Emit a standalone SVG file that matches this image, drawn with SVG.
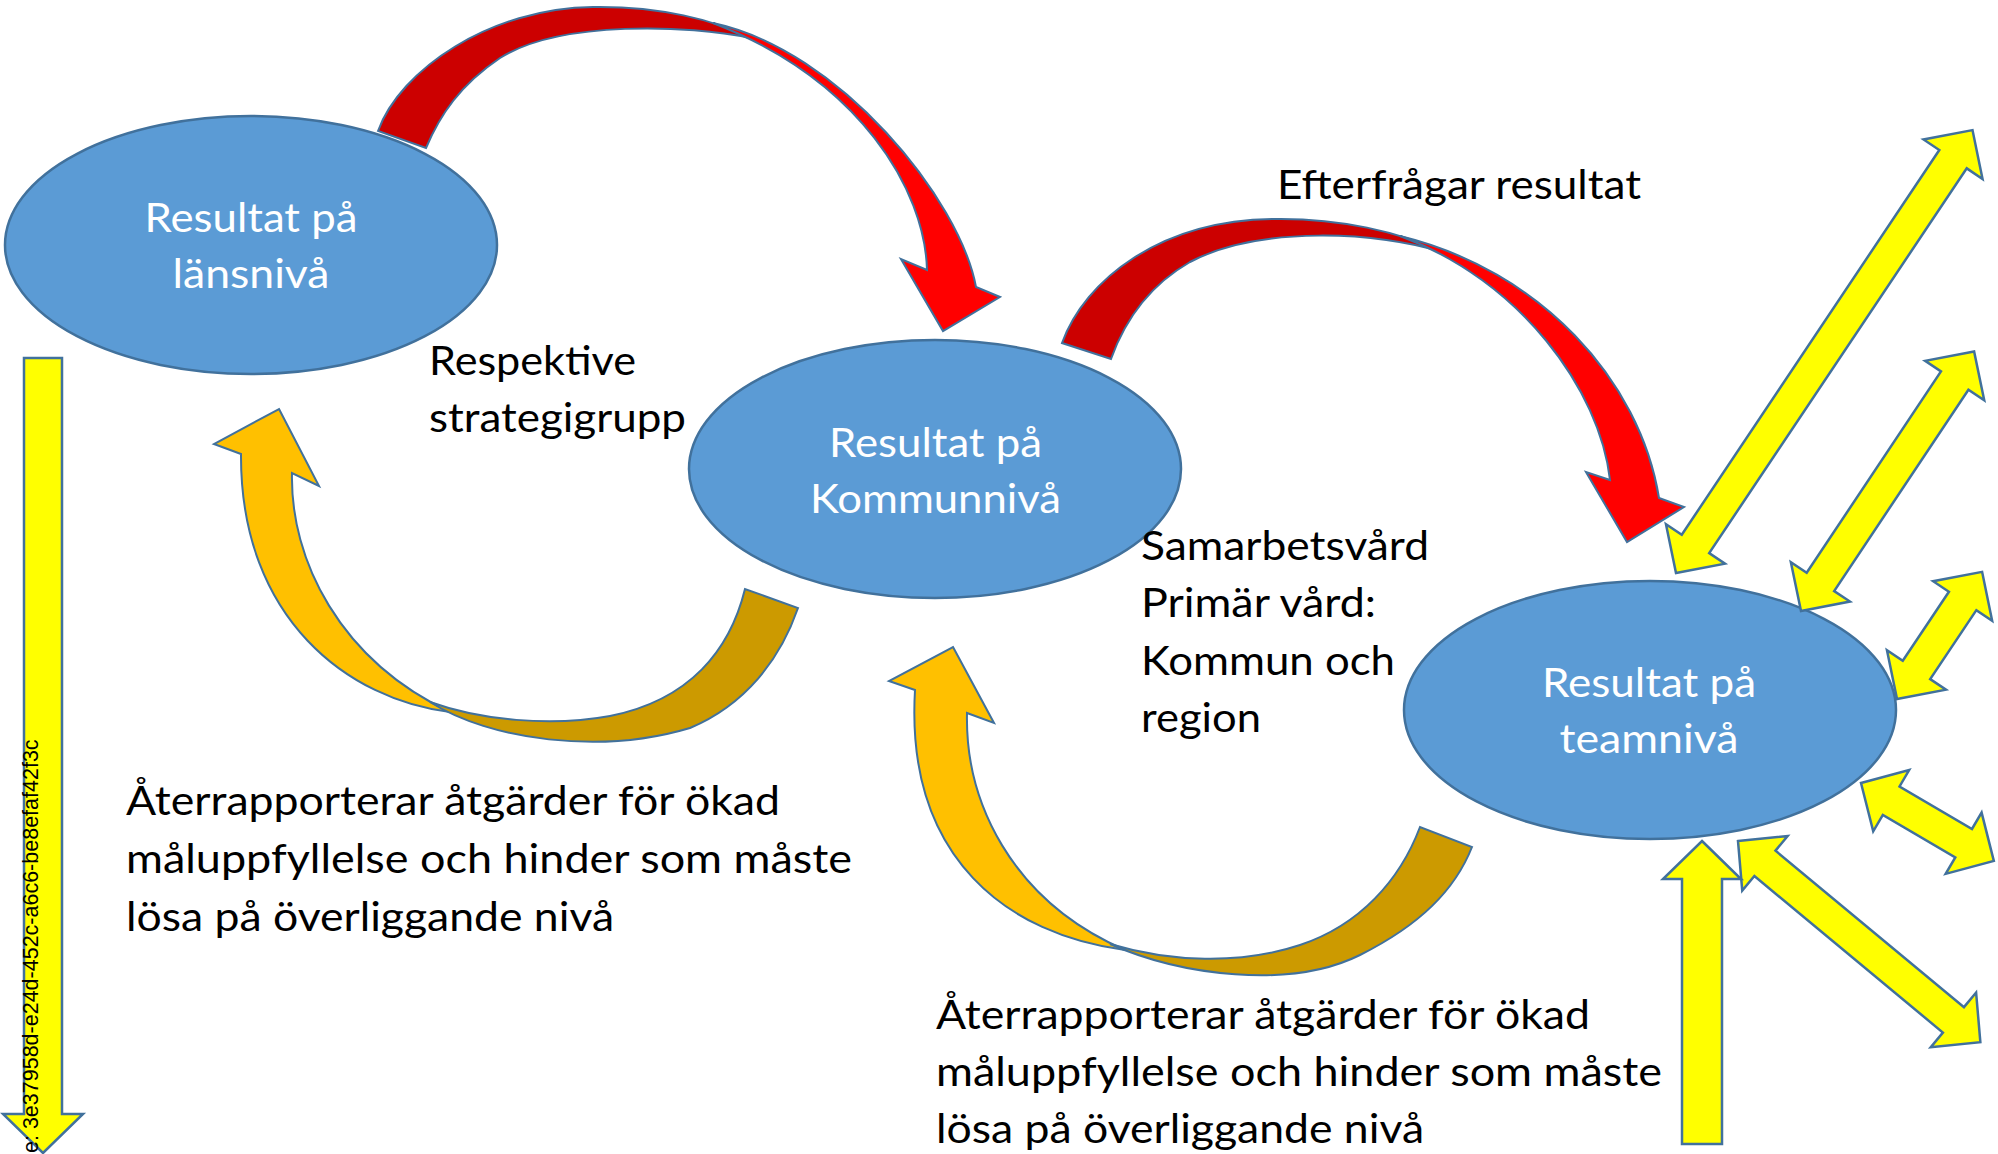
<svg xmlns="http://www.w3.org/2000/svg" width="1998" height="1154" viewBox="0 0 1998 1154">
<style>
.bg{fill:#fff}
.node ellipse{fill:#5B9BD5;stroke:#41719C;stroke-width:2.5}
.nt{font-family:Lato,"Open Sans","Liberation Sans",sans-serif;font-size:41px;fill:#fff;text-anchor:middle}
.lbl{font-family:Lato,"Open Sans","Liberation Sans",sans-serif;font-size:40px;fill:#000}
.ya{fill:#FFFF00;stroke:#41719C;stroke-width:2.5;stroke-linejoin:miter}
.rb{fill:#FF0000;stroke:#41719C;stroke-width:2}
.rd{fill:#CC0000;stroke:#41719C;stroke-width:2}
.ol{fill:#FFC000;stroke:#41719C;stroke-width:2}
.od{fill:#CC9A00;stroke:#41719C;stroke-width:2}
.id{font-family:"Liberation Sans",Arial,sans-serif;font-size:21.5px;fill:#000}
</style>
<rect class="bg" x="0" y="0" width="1998" height="1154"/>

<g id="node-lan" class="node">
<ellipse cx="251" cy="245" rx="246" ry="129"/>
<text class="nt" x="251" y="232" textLength="213" lengthAdjust="spacingAndGlyphs">Resultat på</text>
<text class="nt" x="251" y="288" textLength="157" lengthAdjust="spacingAndGlyphs">länsnivå</text>
</g>
<g id="node-kommun" class="node">
<ellipse cx="935" cy="469" rx="246" ry="129"/>
<text class="nt" x="935.5" y="457" textLength="213" lengthAdjust="spacingAndGlyphs">Resultat på</text>
<text class="nt" x="935.5" y="513" textLength="251" lengthAdjust="spacingAndGlyphs">Kommunnivå</text>
</g>
<g id="node-team" class="node">
<ellipse cx="1650" cy="710" rx="246" ry="129"/>
<text class="nt" x="1649" y="697" textLength="214" lengthAdjust="spacingAndGlyphs">Resultat på</text>
<text class="nt" x="1649" y="753" textLength="179" lengthAdjust="spacingAndGlyphs">teamnivå</text>
</g>

<g id="connectors">
<g id="red-1">
<path class="rd" d="M378,131 C400,70 490,8 593,7 C660,6 715,20 750,38 C690,25 560,20 500,58 C460,85 440,115 426,148 Z"/>
<path class="rb" d="M713,23 C840,50 960,200 976,287 L1000,297 L943,331 L901,259 L927,270 C925,190 860,80 713,23 Z"/>
</g>
<g id="red-2">
<path class="rd" d="M1062,343 C1085,280 1160,220 1274,219 C1340,218 1400,232 1442,252 C1380,232 1260,225 1190,262 C1150,285 1125,320 1111,359 Z"/>
<path class="rb" d="M1400,236 C1540,270 1640,380 1659,498 L1684,507 L1627,542 L1586,472 L1610,480 C1600,390 1520,280 1400,236 Z"/>
</g>
<g id="orange-1">
<path class="ol" d="M279,409 L319,486 L292,473 C290,560 340,660 450,712 C350,700 240,620 241,454 L214,444 Z"/>
<path class="od" d="M430,702 C490,740 600,755 690,728 C745,705 780,660 798,608 L745,589 C730,650 690,700 610,716 C550,727 480,720 430,702 Z"/>
</g>
<g id="orange-2">
<path class="ol" d="M953,647 L994,723 L967,713 C965,800 1010,900 1125,950 C1010,935 905,860 915,690 L889,681 Z"/>
<path class="od" d="M1110,944 C1180,975 1290,990 1360,955 C1420,925 1455,890 1472,847 L1420,827 C1400,880 1360,925 1300,945 C1240,965 1170,962 1110,944 Z"/>
</g>
<polygon class="ya" points="24,358 62,358 62,1114 83,1114 43,1153 3,1114 24,1114"/>
<polygon class="ya" transform="translate(1676,573) rotate(-56.2)" points="0,0 35,-35.5 35,-16.5 498,-16.5 498,-35.5 533,0 498,35.5 498,16.5 35,16.5 35,35.5"/>
<polygon class="ya" transform="translate(1801,611) rotate(-56.3)" points="0,0 35,-35.5 35,-16.5 277,-16.5 277,-35.5 312,0 277,35.5 277,16.5 35,16.5 35,35.5"/>
<polygon class="ya" transform="translate(1897,699) rotate(-56.2)" points="0,0 35,-35.5 35,-16.5 118,-16.5 118,-35.5 153,0 118,35.5 118,16.5 35,16.5 35,35.5"/>
<polygon class="ya" transform="translate(1861,783) rotate(30.4)" points="0,0 35,-35.5 35,-16.5 119,-16.5 119,-35.5 154,0 119,35.5 119,16.5 35,16.5 35,35.5"/>
<polygon class="ya" transform="translate(1738,841) rotate(39.7)" points="0,0 35,-35.5 35,-16.5 280,-16.5 280,-35.5 315,0 280,35.5 280,16.5 35,16.5 35,35.5"/>
<polygon class="ya" points="1702,841 1741,879 1722,879 1722,1144 1682,1144 1682,879 1663,879"/>
</g>

<g id="labels">
<text class="lbl" x="1277" y="199" textLength="364" lengthAdjust="spacingAndGlyphs">Efterfrågar resultat</text>
<text class="lbl" x="429" y="375" textLength="207" lengthAdjust="spacingAndGlyphs">Respektive</text>
<text class="lbl" x="429" y="432" textLength="257" lengthAdjust="spacingAndGlyphs">strategigrupp</text>
<text class="lbl" x="1141" y="560" textLength="288" lengthAdjust="spacingAndGlyphs">Samarbetsvård</text>
<text class="lbl" x="1141" y="617" textLength="235" lengthAdjust="spacingAndGlyphs">Primär vård:</text>
<text class="lbl" x="1141" y="675" textLength="254" lengthAdjust="spacingAndGlyphs">Kommun och</text>
<text class="lbl" x="1141" y="732" textLength="120" lengthAdjust="spacingAndGlyphs">region</text>
<text class="lbl" x="126" y="815" textLength="654" lengthAdjust="spacingAndGlyphs">Återrapporterar åtgärder för ökad</text>
<text class="lbl" x="126" y="873" textLength="726" lengthAdjust="spacingAndGlyphs">måluppfyllelse och hinder som måste</text>
<text class="lbl" x="126" y="931" textLength="488" lengthAdjust="spacingAndGlyphs">lösa på överliggande nivå</text>
<text class="lbl" x="936" y="1029" textLength="654" lengthAdjust="spacingAndGlyphs">Återrapporterar åtgärder för ökad</text>
<text class="lbl" x="936" y="1086" textLength="726" lengthAdjust="spacingAndGlyphs">måluppfyllelse och hinder som måste</text>
<text class="lbl" x="936" y="1143" textLength="488" lengthAdjust="spacingAndGlyphs">lösa på överliggande nivå</text>
<text class="id" transform="translate(38,1153) rotate(-90)">e: 3e37958d-e24d-452c-a6c6-be8efaf42f3c</text>
</g>
</svg>
